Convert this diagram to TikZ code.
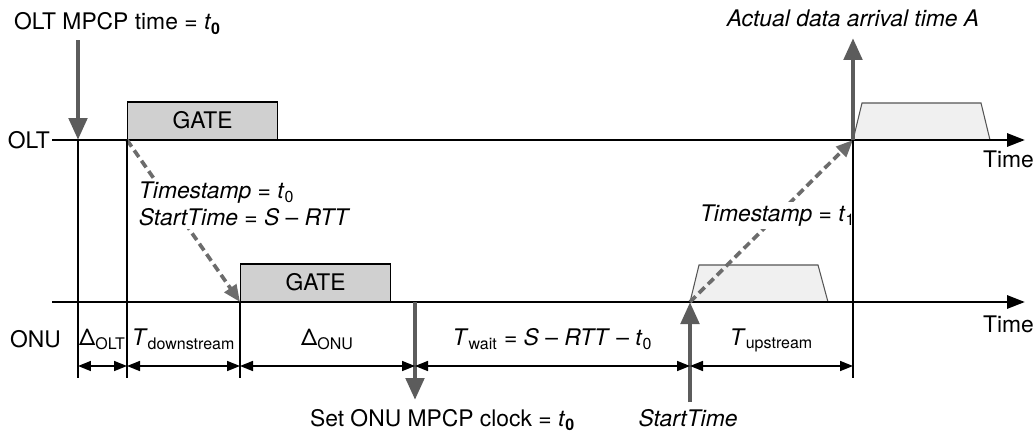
\documentclass[tikz,border=0pt]{standalone}
\usepackage{fontspec}
\setmainfont{TeX Gyre Heros}
\usetikzlibrary{arrows.meta}
\definecolor{gatefill}{RGB}{208,208,208}
\definecolor{burstfill}{RGB}{240,240,240}
\definecolor{burstedge}{RGB}{85,85,85}
\definecolor{ptrgray}{RGB}{92,92,92}
\definecolor{msggray}{RGB}{108,108,108}
\newcommand{\tsub}[2]{\textit{#1}\textsubscript{#2}}

\begin{document}
\begin{tikzpicture}[x=0.02cm, y=-0.02cm,
    font=\fontsize{13}{15.3}\selectfont,
    axis/.style={draw=black, line width=1.7pt, -{Triangle[length=3.6mm,width=2.6mm]}},
    tick/.style={draw=black, line width=0.8pt},
    dim/.style={draw=black, line width=0.9pt,
                {Triangle[length=2.6mm,width=2mm]}-{Triangle[length=2.6mm,width=2mm]}},
    gate/.style={draw=black, fill=gatefill, line width=0.8pt, anchor=south west,
                 minimum width=3.0cm, minimum height=0.75cm, inner sep=0pt},
    burst/.style={draw=burstedge, fill=burstfill, line width=0.6pt},
    msg/.style={draw=msggray, line width=2.1pt, dash pattern=on 4.6pt off 2.6pt,
                -{Triangle[length=3.4mm,width=2.8mm]}},
    ptr/.style={draw=ptrgray, line width=2.8pt, -{Triangle[length=4.4mm,width=3.6mm]}},
    lab/.style={inner sep=1pt},
    cover/.style={fill=white, inner sep=1.5pt, align=left}]
  \useasboundingbox (0,0) rectangle (1033,436);
  \def\yolt{140}
  \def\yonu{302}
  \def\ydim{366}
  % axes and marks on them
  \coordinate (olt0) at (52,\yolt);   \coordinate (olt1) at (1025,\yolt);
  \coordinate (onu0) at (52,\yonu);   \coordinate (onu1) at (1025,\yonu);
  \coordinate (arrA) at (853,\yolt);  \coordinate (startS) at (690,\yonu);
  \coordinate (setC) at (415,\yonu);  \coordinate (oltT) at (78,\yolt);
  % upstream bursts
  \draw[burst] (startS) -- (699,265) -- (818,265) -- (828,\yonu) -- cycle;
  \draw[burst] (arrA) -- (862,103) -- (981,103) -- (990,\yolt) -- cycle;
  % GATE messages
  \node[gate] (gateOLT) at (127,\yolt) {GATE};
  \node[gate] (gateONU) at (240,\yonu) {GATE};
  \draw[axis] (olt0) -- (olt1);
  \draw[axis] (onu0) -- (onu1);
  \node[lab, anchor=east] (oltlab) at (olt0) {OLT};
  \node[lab, anchor=base west] (onulab) at (8,347) {ONU};
  \node[lab, anchor=base west] (time1) at (981,167) {Time};
  \node[lab, anchor=base west] (time2) at (981,332) {Time};
  % messages between OLT and ONU
  \draw[msg] (gateOLT.south west) -- (gateONU.south west);
  \draw[msg] (startS) -- (arrA);
  \node[cover, anchor=west] (gatetxt) at (136,204)
    {\textit{Timestamp} = \tsub{t}{0}\\ \textit{StartTime} = \textit{S} – \textit{RTT}};
  \node[cover, anchor=base west] (reporttxt) at (697,221) {\textit{Timestamp} = \tsub{t}{1}};
  % vertical reference lines
  \foreach \x in {78,127,853} { \draw[tick] (\x,\yolt) -- (\x,378); }
  \draw[tick] (gateONU.south west) -- (240,378);
  % event pointers
  \coordinate (oltTsrc) at (78,40);    \coordinate (setCdst) at (415,400);
  \coordinate (startSsrc) at (690,402); \coordinate (arrAdst) at (853,38);
  \draw[ptr] (oltTsrc) -- (oltT);
  \draw[ptr] (setC) -- (setCdst);
  \draw[ptr] (startSsrc) -- (startS);
  \draw[ptr] (arrA) -- (arrAdst);
  \node[lab, anchor=base west] (oltTlab) at (12,30) {OLT MPCP time = \tsub{t}{\textbf{0}}};
  \node[lab, anchor=base] (arrAlab) at (853,26) {\textit{Actual data arrival time A}};
  \node[lab, anchor=base west] (setClab) at (308,426) {Set ONU MPCP clock = \tsub{t}{\textbf{0}}};
  \node[lab, anchor=base] (startSlab) at (688,426) {\textit{StartTime}};
  % intervals
  \foreach \a/\b/\txt [count=\k] in {78/127/{Δ\textsubscript{OLT}},
      127/240/{\tsub{T}{downstream}}, 240/415/{Δ\textsubscript{ONU}},
      415/690/{\tsub{T}{wait} = \textit{S} – \textit{RTT} – \tsub{t}{0}},
      690/853/{\tsub{T}{upstream}}} {
    \coordinate (d\k a) at (\a,\ydim);
    \coordinate (d\k b) at (\b,\ydim);
    \draw[dim] (d\k a) -- (d\k b);
    \node[lab, anchor=base] (d\k lab) at ({(\a+\b)/2},345) {\txt};
  }
\end{tikzpicture}
\end{document}
